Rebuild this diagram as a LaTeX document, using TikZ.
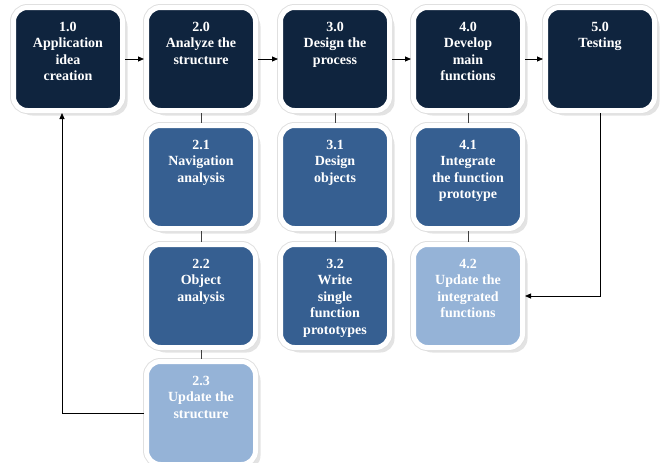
\documentclass[tikz,border=0pt]{standalone}
\usepackage{fontspec}
\setmainfont{Liberation Serif}
\usepackage{xcolor}
\definecolor{phaseDark}{HTML}{0F243E}
\definecolor{phaseMid}{HTML}{365F91}
\definecolor{phaseLight}{HTML}{95B3D7}
\usetikzlibrary{arrows.meta, shadows}
\newcommand{\boxtext}[1]{\parbox[t][74pt][t]{104pt}{\centering #1}}

\begin{document}
\begin{tikzpicture}[x=1pt, y=1pt,
  box/.style={
    rounded corners=14pt, minimum width=109pt, minimum height=103pt,
    inner sep=0pt, draw=white, line width=5pt, text=white,
    font=\bfseries\fontsize{14}{16.5}\selectfont,
    drop shadow={shadow xshift=5pt, shadow yshift=-5pt, fill=black!22},
    preaction={draw=black!12, line width=7pt}
  },
  main/.style={box, fill=phaseDark},
  sub/.style={box, fill=phaseMid},
  upd/.style={box, fill=phaseLight},
  arrow/.style={-{Triangle[length=6pt, width=5pt]}, line width=0.8pt, black},
  link/.style={line width=0.8pt, black!75}
]
  \useasboundingbox (0,0) rectangle (664,-463);
  % main phases
  \node[main] (p1) at (68,-59) {\boxtext{1.0\\Application\\idea\\creation}};
  \node[main] (p2) at (201,-59) {\boxtext{2.0\\Analyze the\\structure}};
  \node[main] (p3) at (335,-59) {\boxtext{3.0\\Design the\\process}};
  \node[main] (p4) at (468,-59) {\boxtext{4.0\\Develop\\main\\functions}};
  \node[main] (p5) at (600,-59) {\boxtext{5.0\\Testing}};
  % sub steps
  \node[sub] (p21) at (201,-177) {\boxtext{2.1\\Navigation\\analysis}};
  \node[sub] (p22) at (201,-296) {\boxtext{2.2\\Object\\analysis}};
  \node[upd] (p23) at (201,-413) {\boxtext{2.3\\Update the\\structure}};
  \node[sub] (p31) at (335,-177) {\boxtext{3.1\\Design\\objects}};
  \node[sub] (p32) at (335,-296) {\boxtext{3.2\\Write\\single\\function\\prototypes}};
  \node[sub] (p41) at (468,-177) {\boxtext{4.1\\Integrate\\the function\\prototype}};
  \node[upd] (p42) at (468,-296) {\boxtext{4.2\\Update the\\integrated\\functions}};
  \draw[arrow] (p1) -- (p2);
  \draw[arrow] (p2) -- (p3);
  \draw[arrow] (p3) -- (p4);
  \draw[arrow] (p4) -- (p5);
  \draw[link] (p2) -- (p21);
  \draw[link] (p21) -- (p22);
  \draw[link] (p22) -- (p23);
  \draw[link] (p3) -- (p31);
  \draw[link] (p31) -- (p32);
  \draw[link] (p4) -- (p41);
  \draw[link] (p41) -- (p42);
  \draw[arrow] (p5.south) |- (p42.east);
  \draw[arrow] (p23.west) -| ([xshift=-6pt]p1.south);
\end{tikzpicture}
\end{document}
